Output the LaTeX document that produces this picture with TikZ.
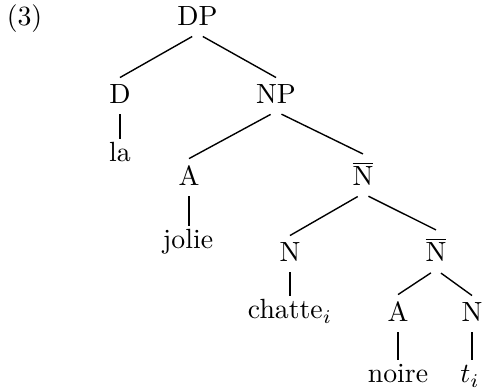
\documentclass[tikz,border=0pt]{standalone}
\usepackage{amsmath,amssymb}
\usepackage{tikz}
\tikzset{
  cat/.style={anchor=base, inner xsep=0pt, inner ysep=2.5pt},
  word/.style={anchor=base, inner xsep=0pt, inner ysep=1.2pt, text height=1.6ex, text depth=0pt},
  branch/.style={line width=0.5pt, shorten <=2.2pt},
  stem/.style={line width=0.8pt, shorten <=1pt}
}
\newcommand{\nbar}{$\overline{\mbox{N}}$}

\begin{document}
\begin{tikzpicture}[x=0.36pt, y=-0.36pt]
        \useasboundingbox (0,0) rectangle (482,391);
        \node[anchor=base, inner sep=0pt] (ex) at (24.5,26) {(3)};
        % categories
        \node[cat] (dp) at (197.5,26) {DP};
        \node[cat] (d) at (120,104) {D};
        \node[cat] (np) at (276,104) {NP};
        \node[cat] (a1) at (189,186) {A};
        \node[cat] (nbar1) at (363,186) {\nbar};
        \node[cat] (n1) at (290,262) {N};
        \node[cat] (nbar2) at (436,262) {\nbar};
        \node[cat] (a2) at (398,322) {A};
        \node[cat] (n2) at (472,322) {N};
        % words
        \node[word] (la) at (120,162) {la};
        \node[word] (jolie) at (188,249) {jolie};
        \node[word] (chatte) at (290,319) {chatte$_i$};
        \node[word] (noire) at (398,383) {noire};
        \node[word] (ti) at (470,383) {$t_i$};
        % branches
        \draw[branch] (dp.south) -- (d.north);
        \draw[branch] (dp.south) -- (np.north);
        \draw[branch] (np.south) -- (a1.north);
        \draw[branch] (np.south) -- (nbar1.north);
        \draw[branch] (nbar1.south) -- (n1.north);
        \draw[branch] (nbar1.south) -- (nbar2.north);
        \draw[branch] (nbar2.south) -- (a2.north);
        \draw[branch] (nbar2.south) -- (n2.north);
        \draw[stem] (d.south) -- (la.north -| d.south);
        \draw[stem] (a1.south) -- (jolie.north -| a1.south);
        \draw[stem] (n1.south) -- (chatte.north -| n1.south);
        \draw[stem] (a2.south) -- (noire.north -| a2.south);
        \draw[stem] (n2.south) -- (ti.north -| n2.south);
      \end{tikzpicture}
\end{document}
